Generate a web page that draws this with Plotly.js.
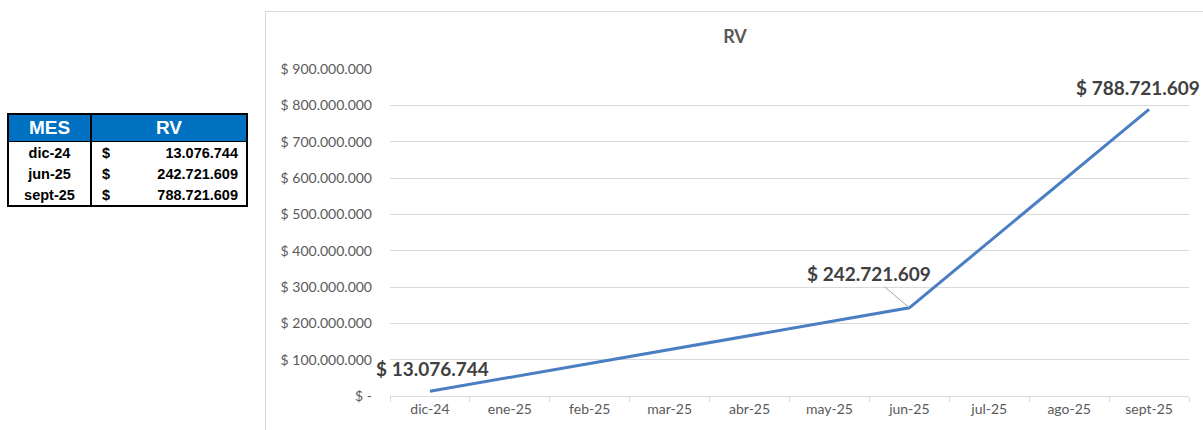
<!DOCTYPE html>
<html><head><meta charset="utf-8">
<script src="https://cdn.plot.ly/plotly-3.0.1.min.js"></script>
<style>
html,body{margin:0;padding:0;background:#fff;width:1203px;height:430px;overflow:hidden;}
#frame{position:absolute;left:265px;top:11px;width:960px;height:440px;border:1px solid #d9d9d9;box-sizing:border-box;}
#chart{position:absolute;left:0;top:0;width:1203px;height:430px;}
#tbl{position:absolute;left:7px;top:113px;border-collapse:collapse;border:2px solid #000;font-family:"Liberation Sans Narrow","Arial Narrow","Liberation Sans",Arial,sans-serif;font-weight:bold;}
#tbl th{background:#0070C0;color:#fff;font-size:19px;height:26px;padding:0;border-bottom:1px solid #000;}
#tbl td{font-size:14.5px;height:21px;padding:0;color:#000;}
#tbl .c1{width:81px;text-align:center;border-right:2px solid #000;}
#tbl .c2{width:154px;}
#tbl th.c1{border-right:2px solid #000;}
</style></head>
<body>
<div id="frame"></div>
<div id="chart"></div>
<table id="tbl"></table>
<script>
var categories = ["dic-24","ene-25","feb-25","mar-25","abr-25","may-25","jun-25","jul-25","ago-25","sept-25"];
var rvValues = [13076744, null, null, null, null, null, 242721609, null, null, 788721609];
var tableMonths = ["dic-24","jun-25","sept-25"];
var tableValues = ["13.076.744","242.721.609","788.721.609"];
var yTickVals = [0,100000000,200000000,300000000,400000000,500000000,600000000,700000000,800000000,900000000];
var yTickText = ["$ -","$ 100.000.000","$ 200.000.000","$ 300.000.000","$ 400.000.000","$ 500.000.000","$ 600.000.000","$ 700.000.000","$ 800.000.000","$ 900.000.000"];

// table
var tbl = document.getElementById('tbl');
var h = '<tr><th class="c1">MES</th><th class="c2">RV</th></tr>';
for (var i=0;i<tableMonths.length;i++){
  h += '<tr><td class="c1">'+tableMonths[i]+'</td><td class="c2"><div style="display:flex;justify-content:space-between;padding:0 8px 0 10px;"><span>$</span><span>'+tableValues[i]+'</span></div></td></tr>';
}
tbl.innerHTML = h;

function fmt(v){ return '$ ' + v.toString().replace(/\B(?=(\d{3})+(?!\d))/g,'.'); }

var labelFont = {family:'Lato, "Open Sans", sans-serif', size:19, color:'#404040', weight:'bold'};
var annotations = [
  {x:categories[0], y:rvValues[0], text:'<b>'+fmt(rvValues[0])+'</b>', showarrow:false, yshift:23, xshift:3, font:labelFont},
  {x:categories[6], y:rvValues[6], text:'<b>'+fmt(rvValues[6])+'</b>', showarrow:true, arrowhead:0, arrowwidth:1, arrowcolor:'#a6a6a6', ax:-40, ay:-34, font:labelFont},
  {x:categories[9], y:rvValues[9], text:'<b>'+fmt(rvValues[9])+'</b>', showarrow:false, yshift:22, xshift:-11, font:labelFont}
];

var trace = {
  x: categories, y: rvValues, type:'scatter', mode:'lines', connectgaps:true,
  line:{color:'#4A7EC2', width:3}, hoverinfo:'skip'
};

var tickFont = {family:'Lato, "Open Sans", sans-serif', size:14, color:'#595959'};
var layout = {
  width:1203, height:430,
  margin:{l:390, r:14, t:69, b:34},
  paper_bgcolor:'rgba(0,0,0,0)', plot_bgcolor:'rgba(0,0,0,0)',
  showlegend:false,
  title:{text:'<b>RV</b>', x:(735/1203), xanchor:'center', y:1-37/430, yanchor:'middle', font:{family:'Lato, "Open Sans", sans-serif', size:18, color:'#595959'}},
  xaxis:{type:'category', tickson:'boundaries', ticks:'outside', ticklen:5, tickcolor:'#d9d9d9', showline:true, linecolor:'#d9d9d9', linewidth:1, showgrid:false, zeroline:false,
    tickfont:tickFont, range:[-0.5,9.5], fixedrange:true},
  yaxis:{range:[0,900000000], tickvals:yTickVals, ticktext:yTickText, showgrid:true, gridcolor:'#d9d9d9', gridwidth:1, zeroline:false, showline:false, ticks:'', ticklabelstandoff:17,
    tickfont:tickFont, fixedrange:true},
  annotations: annotations
};

Plotly.newPlot('chart',[trace],layout,{displayModeBar:false, staticPlot:true});
</script>
</body></html>
